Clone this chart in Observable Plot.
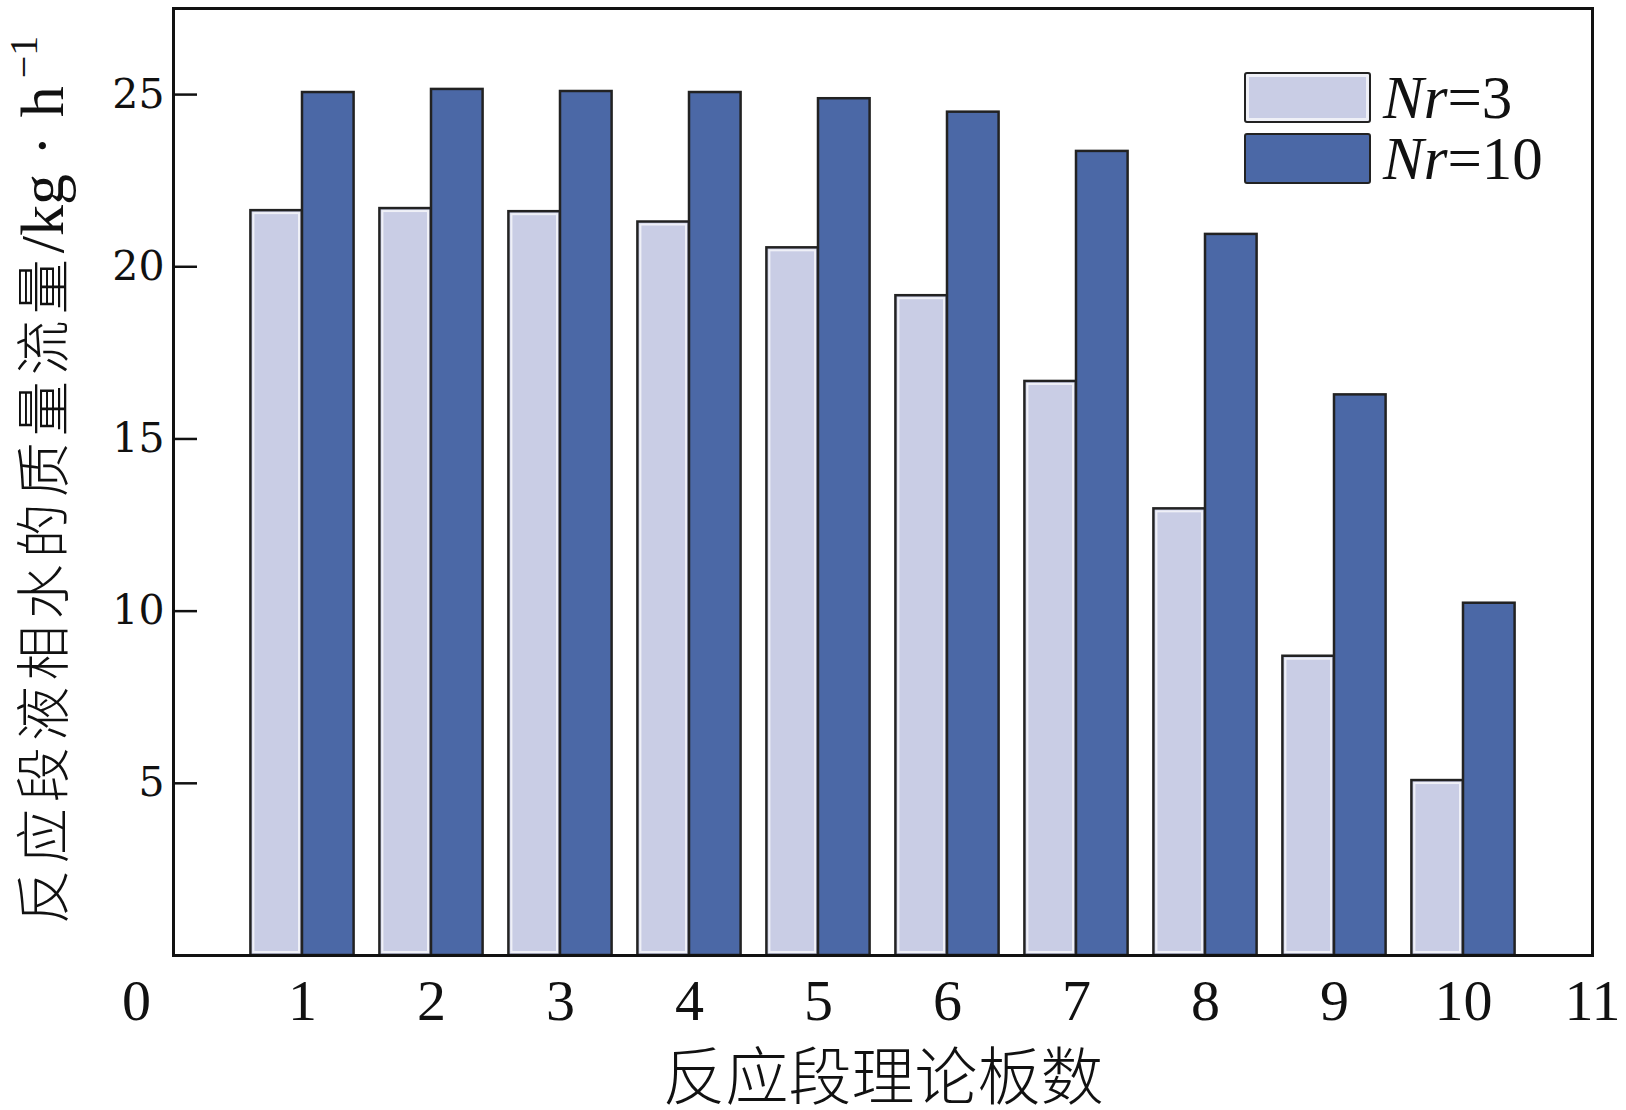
<!DOCTYPE html>
<html>
<head>
<meta charset="utf-8">
<script src="https://cdn.jsdelivr.net/npm/d3@7"></script>
<script src="https://cdn.jsdelivr.net/npm/@observablehq/plot@0.6"></script>
<style>
  html, body { margin: 0; padding: 0; background: #fff; }
  #wrap { position: relative; width: 1626px; height: 1110px; }
  .legend { position: absolute; left: 1244px; top: 68px; font-family: "Liberation Serif", serif; font-size: 61px; color: #111; }
  .legend .row { display: flex; align-items: center; height: 58px; margin-bottom: 3px; line-height: 1; }
  .legend .sw { width: 127px; height: 51px; border: 2.5px solid #222; border-radius: 3px; box-sizing: border-box; margin-right: 12px; }
  .legend i { font-style: italic; }
  .ytitle { position: absolute; left: 42px; top: 480px; transform: translate(-50%, -50%) rotate(-90deg); white-space: nowrap; color: #111; line-height: 1; }
  .ytitle .cjk { font-family: "Noto Sans CJK SC", sans-serif; font-weight: 300; font-size: 55px; letter-spacing: 6px; }
  .ytitle .lat { font-family: "Liberation Serif", serif; font-size: 62px; }
  .ytitle .dot { display: inline-block; margin: 0 18px; }
  .ytitle sup { font-size: 40px; margin-left: 8px; vertical-align: 0; position: relative; top: -26px; }
</style>
</head>
<body>
<div id="wrap"></div>
<script>
const stages = [1, 2, 3, 4, 5, 6, 7, 8, 9, 10];
const nr3 = [21.63, 21.69, 21.60, 21.30, 20.55, 19.16, 16.67, 12.97, 8.69, 5.08];
const nr10 = [25.06, 25.15, 25.09, 25.06, 24.88, 24.49, 23.35, 20.94, 16.28, 10.23];
const seriesNames = ["Nr=3", "Nr=10"];
const seriesColors = ["#c9cde5", "#4b68a6"];
const xTicks = [1, 2, 3, 4, 5, 6, 7, 8, 9, 10, 11];
const yTicks = [5, 10, 15, 20, 25];
const xTitle = "反应段理论板数";
const yTitleText = "反应段液相水的质量流量";
const yTitleUnit = ["/kg", "h", "−1"];

const d3rows = stages.map((s, i) => ({stage: s, value: nr3[i]}));
const d10rows = stages.map((s, i) => ({stage: s, value: nr10[i]}));
const barW = 0.4;

const serif = "'Liberation Serif', 'Times New Roman', serif";
const cjk = "'Noto Sans CJK SC', sans-serif";

const chart = Plot.plot({
  width: 1626,
  height: 1110,
  marginLeft: 173,
  marginRight: 34,
  marginTop: 8,
  marginBottom: 155,
  x: {domain: [0, 11]},
  y: {domain: [0, 27.5]},
  style: {background: "white", color: "#111"},
  marks: [
    Plot.rectY(d3rows, {x1: d => d.stage - barW, x2: d => d.stage, y: "value", fill: seriesColors[0], stroke: "#222", strokeWidth: 2.5}),
    Plot.rectY(d3rows, {x1: d => d.stage - barW, x2: d => d.stage, y: "value", fill: "none", stroke: "white", strokeWidth: 2, inset: 3, strokeOpacity: 0.7}),
    Plot.rectY(d10rows, {x1: d => d.stage, x2: d => d.stage + barW, y: "value", fill: seriesColors[1], stroke: "#222", strokeWidth: 2.5}),
    Plot.frame({stroke: "#111", strokeWidth: 3}),
    Plot.axisY({ticks: yTicks, tickSize: -24, tickFormat: () => "", strokeWidth: 2.5, label: null}),
    Plot.axisY({ticks: yTicks, tickSize: 0, tickPadding: 9, fontSize: 41, fontFamily: "'DejaVu Serif', serif", label: null}),
    Plot.axisX({ticks: xTicks, tickSize: 0, tickPadding: 23, fontSize: 58, fontFamily: serif, label: null}),
    Plot.axisX({ticks: [0], tickSize: 0, tickPadding: 23, dx: -37, fontSize: 58, fontFamily: serif, label: null}),
    Plot.text([xTitle], {text: d => d, frameAnchor: "bottom", lineAnchor: "middle", textAnchor: "middle", dy: 123, fontSize: 63, fontFamily: cjk, fontWeight: 300})
  ]
});

const wrap = document.getElementById("wrap");
wrap.appendChild(chart);

// y-axis title (rotated, with superscript unit)
const yt = document.createElement("div");
yt.className = "ytitle";
yt.innerHTML = '<span class="cjk">' + yTitleText + '</span><span class="lat">' + yTitleUnit[0] +
  '<span class="dot">·</span>' + yTitleUnit[1] + '<sup>' + yTitleUnit[2] + '</sup></span>';
wrap.appendChild(yt);

// legend
const legend = document.createElement("div");
legend.className = "legend";
seriesNames.forEach((name, i) => {
  const row = document.createElement("div");
  row.className = "row";
  const sw = document.createElement("div");
  sw.className = "sw";
  sw.style.background = seriesColors[i];
  if (i === 0) sw.style.boxShadow = "inset 0 0 0 3px rgba(255,255,255,0.7)";
  const lab = document.createElement("span");
  const parts = name.split("=");
  lab.innerHTML = "<i>" + parts[0] + "</i>=" + parts[1];
  row.appendChild(sw);
  row.appendChild(lab);
  legend.appendChild(row);
});
wrap.appendChild(legend);
</script>
</body>
</html>
